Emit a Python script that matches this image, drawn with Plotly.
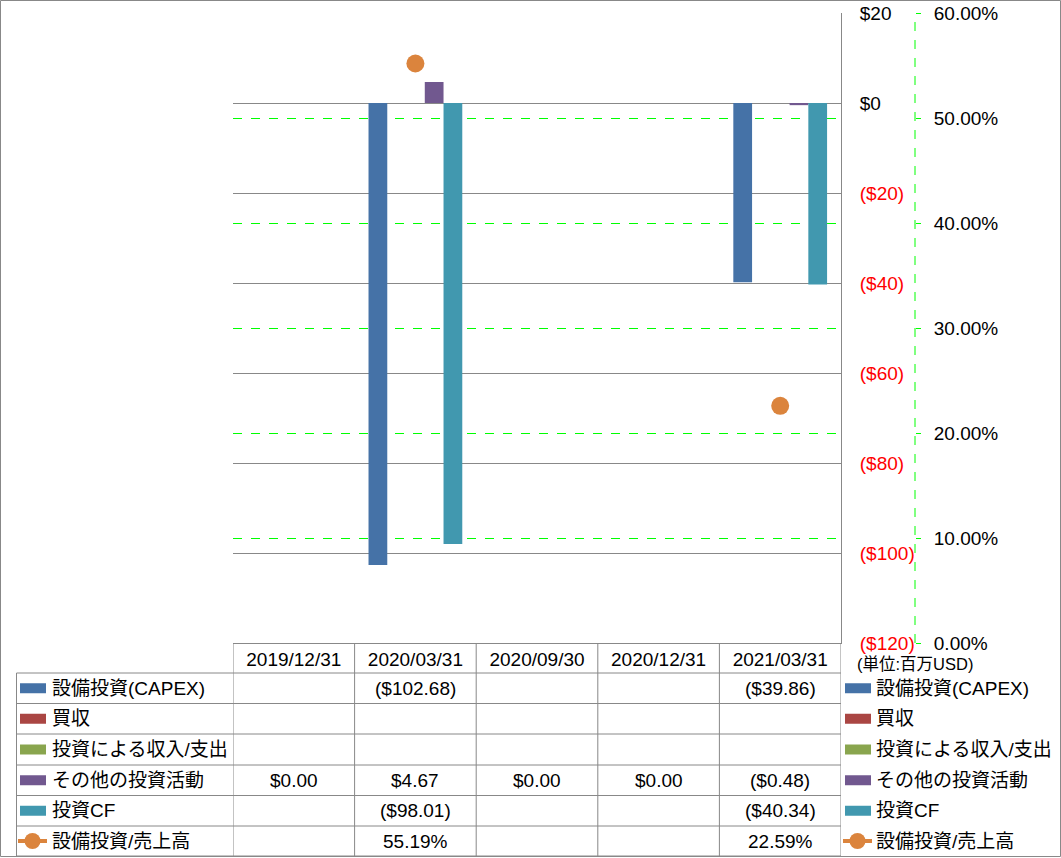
import plotly.graph_objects as go

W, H = 1061, 858

categories = ["2019/12/31", "2020/03/31", "2020/09/30", "2020/12/31", "2021/03/31"]
capex = [None, -102.68, None, None, -39.86]
acquisition = [None, None, None, None, None]
invest_income = [None, None, None, None, None]
other_invest = [0.00, 4.67, 0.00, 0.00, -0.48]
invest_cf = [None, -98.01, None, None, -40.34]
capex_ratio = [None, 55.19, None, None, 22.59]

series_names = ["設備投資(CAPEX)", "買収", "投資による収入/支出", "その他の投資活動", "投資CF", "設備投資/売上高"]
series_colors = ["#4572A7", "#AA4643", "#89A54E", "#71588F", "#4198AF", "#DB843D"]

y1_ticks = [20, 0, -20, -40, -60, -80, -100, -120]
y2_ticks = [0, 10, 20, 30, 40, 50, 60]
unit_label = "(単位:百万USD)"

FONT = "Liberation Sans, Noto Sans CJK JP, sans-serif"
GRID = "#888888"
GREEN = "#00FF00"


def px(x):
    return x / W


def py(y):
    return 1 - y / H


def money(v):
    if v is None:
        return ""
    if v < 0:
        return "(${:,.2f})".format(-v)
    return "${:,.2f}".format(v)


def pct(v):
    return "" if v is None else "{:.2f}%".format(v)


def money_tick(v):
    if v < 0:
        return "<span style='color:#FF0000'>(${})</span>".format(-v)
    return "${}".format(v)


# plot area (pixels)
PL, PR, PT, PB = 233, 841, 13, 643
Y2X = 915

fig = go.Figure()
bar_data = [capex, acquisition, invest_income, other_invest, invest_cf]
for name, vals, col in zip(series_names[:5], bar_data, series_colors[:5]):
    fig.add_trace(go.Bar(x=categories, y=vals, name=name, marker_color=col,
                         marker_line_width=0, showlegend=False, yaxis="y"))
fig.add_trace(go.Scatter(x=categories, y=capex_ratio, name=series_names[5], mode="lines+markers",
                         line=dict(color=series_colors[5], width=3),
                         marker=dict(size=18, color=series_colors[5]),
                         showlegend=False, yaxis="y2"))

fig.update_layout(
    template="none",
    width=W, height=H, autosize=False,
    margin=dict(l=0, r=0, t=0, b=0, pad=0),
    paper_bgcolor="white", plot_bgcolor="white",
    barmode="group", bargap=0.229, bargroupgap=0,
    font=dict(family=FONT, size=19, color="#000000"),
    xaxis=dict(domain=[px(PL), px(PR)], type="category", range=[-0.5, 4.5], automargin=False,
               showgrid=False, showline=True, linecolor=GRID, linewidth=1,
               ticks="", ticklabelstandoff=-1, tickfont=dict(size=19)),
    yaxis=dict(domain=[py(PB), py(PT)], range=[-120, 20], side="right", automargin=False,
               tickvals=y1_ticks, ticktext=[money_tick(v) for v in y1_ticks],
               showgrid=True, gridcolor=GRID, gridwidth=1, zeroline=False,
               showline=True, linecolor=GRID, linewidth=1, ticks="",
               ticklabelstandoff=14, tickfont=dict(size=19)),
    yaxis2=dict(overlaying="y", anchor="free", position=px(Y2X), side="right", automargin=False,
                range=[0, 60], tickvals=y2_ticks, ticktext=[pct(v) for v in y2_ticks],
                showgrid=True, gridcolor=GREEN, griddash="dash", gridwidth=1,
                zeroline=False, showline=False, ticks="outside", ticklen=5,
                tickcolor=GREEN, tickwidth=1, ticklabelstandoff=9,
                tickfont=dict(size=19)),
)

shapes = []
annotations = []

# dashed green secondary axis line
shapes.append(dict(type="line", xref="paper", yref="y2", x0=px(Y2X), x1=px(Y2X), y0=0, y1=60,
                   line=dict(color=GREEN, width=1, dash="dash")))

# table geometry
row_tops = [673, 703.5, 734, 765, 795.5, 826]
TB = 856
LEFT = 16.5

# vertical column boundaries (data scale)
for k in range(len(categories) + 1):
    shapes.append(dict(type="line", xref="x", yref="paper", x0=k - 0.5, x1=k - 0.5,
                       y0=py(PB), y1=py(TB), line=dict(color=GRID, width=1)))
# left border of legend column
shapes.append(dict(type="line", xref="paper", yref="paper", x0=px(LEFT), x1=px(LEFT),
                   y0=py(row_tops[0]), y1=py(TB), line=dict(color=GRID, width=1)))
# horizontal row lines
for yv in row_tops + [TB]:
    shapes.append(dict(type="line", xref="paper", yref="paper", x0=px(LEFT), x1=px(PR),
                       y0=py(yv), y1=py(yv), line=dict(color=GRID, width=1)))

row_vals = [[money(v) for v in capex], [money(v) for v in acquisition],
            [money(v) for v in invest_income], [money(v) for v in other_invest],
            [money(v) for v in invest_cf], [pct(v) for v in capex_ratio]]

for r, (name, col, vals) in enumerate(zip(series_names, series_colors, row_vals)):
    top = row_tops[r]
    bot = row_tops[r + 1] if r + 1 < len(row_tops) else TB
    cy = (top + bot) / 2
    # cell values
    for c, t in enumerate(vals):
        if t:
            annotations.append(dict(x=categories[c], y=py(cy), xref="x", yref="paper",
                                    text=t, showarrow=False, xanchor="center", yanchor="middle",
                                    font=dict(size=19)))
    # legend keys, left (table) and right
    for sx, tx in ((20, 50), (845, 874)):
        if r < 5:
            shapes.append(dict(type="rect", xref="paper", yref="paper",
                               x0=px(sx), x1=px(sx + 26), y0=py(cy + 5), y1=py(cy - 5),
                               fillcolor=col, line=dict(width=0)))
        else:
            shapes.append(dict(type="line", xref="paper", yref="paper",
                               x0=px(sx - 2), x1=px(sx + 27), y0=py(cy), y1=py(cy),
                               line=dict(color=col, width=4)))
            shapes.append(dict(type="circle", xref="paper", yref="paper",
                               x0=px(sx + 12.5 - 8), x1=px(sx + 12.5 + 8),
                               y0=py(cy + 8), y1=py(cy - 8),
                               fillcolor=col, line=dict(width=0)))
        annotations.append(dict(x=px(tx), y=py(cy), xref="paper", yref="paper", text=name,
                                showarrow=False, xanchor="left", yanchor="middle",
                                font=dict(size=19)))

annotations.append(dict(x=px(855), y=py(664), xref="paper", yref="paper", text=unit_label,
                        showarrow=False, xanchor="left", yanchor="middle", font=dict(size=16.5)))

# outer border
shapes.append(dict(type="rect", xref="paper", yref="paper", x0=px(0.5), x1=px(W - 0.5),
                   y0=py(H - 1.5), y1=py(0.5), line=dict(color=GRID, width=1), fillcolor="rgba(0,0,0,0)"))

fig.update_layout(shapes=shapes, annotations=annotations)

fig.write_html("out.html", config={"displayModeBar": False},
               post_script="document.body.style.margin='0';document.body.style.overflow='hidden';")
